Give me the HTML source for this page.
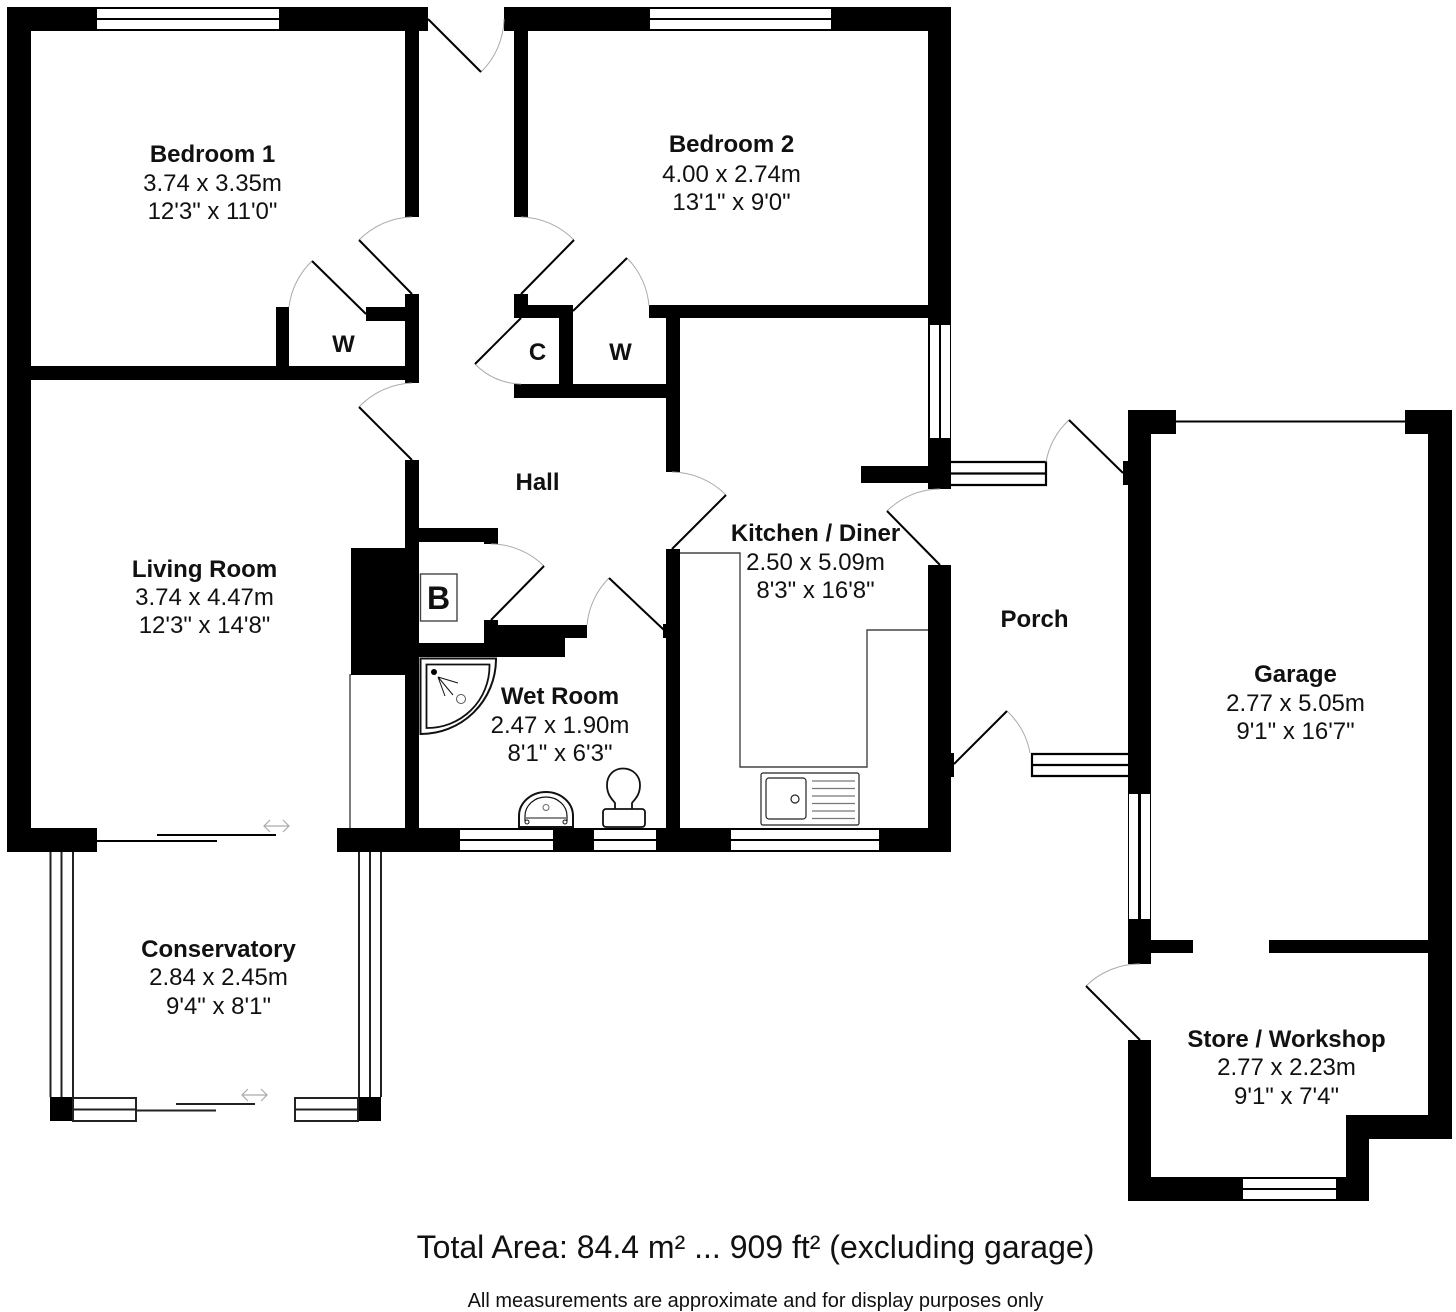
<!DOCTYPE html>
<html><head><meta charset="utf-8"><style>
html,body{margin:0;padding:0;background:#fff}
svg{display:block}
text{font-family:"Liberation Sans",sans-serif;font-size:24px;fill:#111;text-anchor:middle}
.b{font-weight:bold}
.w{fill:#000}
.a{fill:none;stroke:#aaa;stroke-width:1}
.d{fill:none;stroke:#000;stroke-width:2}
.l{stroke:#000;stroke-width:2.200;fill:none}
.g{stroke:#444;stroke-width:1.400;fill:none}
.f{stroke:#aaa;stroke-width:1.200;fill:none}
.win{fill:#fff}
</style></head><body>
<svg width="1456" height="1312" viewBox="0 0 1456 1312" xmlns="http://www.w3.org/2000/svg">
<rect width="1456" height="1312" fill="#fff"/>
<!-- walls -->
<g class="w">
<rect x="7" y="7" width="421" height="24"/>
<rect x="504" y="7" width="447" height="24"/>
<rect x="7" y="7" width="24" height="845"/>
<rect x="405" y="7" width="14" height="210"/>
<rect x="514" y="7" width="14" height="210"/>
<rect x="405" y="294" width="14" height="89"/>
<rect x="366" y="307" width="39" height="14"/>
<rect x="276" y="307" width="13" height="60"/>
<rect x="31" y="366" width="374" height="14"/>
<rect x="405" y="460" width="14" height="368"/>
<rect x="514" y="294" width="14" height="24"/>
<rect x="528" y="305" width="45" height="13"/>
<rect x="559" y="305" width="14" height="80"/>
<rect x="514" y="384" width="152" height="14"/>
<rect x="666" y="305" width="14" height="167"/>
<rect x="649" y="305" width="279" height="13"/>
<rect x="928" y="7" width="23" height="482"/>
<rect x="861" y="466" width="67" height="17"/>
<rect x="928" y="565" width="23" height="287"/>
<rect x="666" y="549" width="14" height="279"/>
<rect x="7" y="828" width="90" height="24"/>
<rect x="337" y="828" width="614" height="24"/>
<rect x="351" y="548" width="54" height="127"/>
<rect x="419" y="528" width="79" height="14"/>
<rect x="484" y="528" width="14" height="16"/>
<rect x="484" y="620" width="14" height="37"/>
<rect x="419" y="643" width="146" height="14"/>
<rect x="498" y="625" width="89" height="13"/>
<rect x="498" y="638" width="67" height="19"/>
<rect x="663" y="624" width="3" height="14"/>
<rect x="951" y="753" width="3" height="24"/>
<rect x="1123" y="461" width="5" height="24"/>
<!-- garage -->
<rect x="1128" y="410" width="23" height="383"/>
<rect x="1128" y="410" width="48" height="24"/>
<rect x="1405" y="410" width="47" height="24"/>
<rect x="1428" y="410" width="24" height="729"/>
<rect x="1128" y="919" width="23" height="45"/>
<rect x="1151" y="940" width="42" height="13"/>
<rect x="1269" y="940" width="159" height="13"/>
<rect x="1128" y="1040" width="23" height="161"/>
<rect x="1128" y="1177" width="241" height="24"/>
<rect x="1346" y="1115" width="23" height="86"/>
<rect x="1346" y="1115" width="106" height="24"/>
<rect x="50" y="1097" width="23" height="24"/>
<rect x="358" y="1097" width="23" height="24"/>
</g>
<!-- windows in walls (white strips) -->
<g class="win">
<rect x="97" y="9" width="182" height="9"/><rect x="97" y="20" width="182" height="9"/>
<rect x="650" y="9" width="181" height="9"/><rect x="650" y="20" width="181" height="9"/>
<rect x="930" y="325" width="9" height="113"/><rect x="941" y="325" width="9" height="113"/>
<rect x="460" y="830" width="93" height="9"/><rect x="460" y="841" width="93" height="9"/>
<rect x="594" y="830" width="62" height="9"/><rect x="594" y="841" width="62" height="9"/>
<rect x="731" y="830" width="148" height="9"/><rect x="731" y="841" width="148" height="9"/>
<rect x="1243" y="1179" width="93" height="9"/><rect x="1243" y="1190" width="93" height="9"/>
</g>
<!-- side window at garage -->
<rect x="1128" y="793" width="23" height="126" fill="#000"/>
<rect x="1129" y="794" width="9" height="125" fill="#fff"/><rect x="1141" y="794" width="9" height="125" fill="#fff"/>
<!-- outlined windows -->
<g class="l">
<path d="M951 462H1046V485H951M951 473.500H1046"/>
<path d="M1128 754H1032V776H1128M1032 765H1128"/>
</g>
<g stroke="#222" stroke-width="2" fill="none">
<path d="M50.500 852V1097M61.500 852V1097M73 852V1097"/>
<path d="M359 852V1097M370 852V1097M381 852V1097"/>
<rect x="73" y="1098" width="63" height="23"/><path d="M73 1109.500H136"/>
<rect x="295" y="1098" width="63" height="23"/><path d="M295 1109.500H358"/>
</g>
<!-- doors -->
<g class="a">
<path d="M412 217A77 77 0 0 0 359 240"/>
<path d="M312 261A76 76 0 0 0 289 307"/>
<path d="M412 383A77 77 0 0 0 359 407"/>
<path d="M521 217A77 77 0 0 1 574 240"/>
<path d="M475 364A65 65 0 0 0 521 384"/>
<path d="M627 258A76 76 0 0 1 649 306"/>
<path d="M481 72A76 76 0 0 0 504 19"/>
<path d="M491 544A76 76 0 0 1 544 566"/>
<path d="M609 578A76 76 0 0 0 587 625"/>
<path d="M672 472A77 77 0 0 1 726 495"/>
<path d="M940 489A76 76 0 0 0 887 511"/>
<path d="M1069 420A76 76 0 0 0 1046 462"/>
<path d="M1007 711A76 76 0 0 1 1030 753"/>
<path d="M1140 964A76 76 0 0 0 1086 986"/>
</g>
<g class="d">
<path d="M412 294L359 240"/>
<path d="M366 314L312 261"/>
<path d="M412 460L359 407"/>
<path d="M521 294L574 240"/>
<path d="M521 318L475 364"/>
<path d="M573 311L627 258"/>
<path d="M428 19L481 72"/>
<path d="M491 620L544 566"/>
<path d="M664 630L609 578"/>
<path d="M672 549L726 495"/>
<path d="M940 565L887 511"/>
<path d="M1123 473L1069 420"/>
<path d="M954 764L1007 711"/>
<path d="M1140 1040L1086 986"/>
<path d="M97 841H217M157 835H276"/>
<path d="M136 1110.500H216M176 1104H255" stroke="#222"/>
<path d="M1176 421.500H1405"/>
</g>
<!-- sliding arrows -->
<g class="f">
<path d="M264 826H289M270 820L264 826L270 832M283 820L289 826L283 832"/>
<path d="M242 1095H267M248 1089L242 1095L248 1101M261 1089L267 1095L261 1101"/>
</g>
<!-- counters -->
<g class="g">
<path d="M680 553H740V767H867V630H928"/>
<path d="M350 828V675H351"/>
<rect x="420.500" y="574" width="36.500" height="47"/>
</g>
<!-- sink -->
<g fill="none" stroke="#222" stroke-width="1.200">
<rect x="761" y="773" width="98" height="52" rx="2"/>
<rect x="766" y="778" width="40" height="41" rx="3"/>
<circle cx="795" cy="799" r="4"/>
<path d="M812 781H855M812 788.500H855M812 796H855M812 803.500H855M812 811H855M812 818.500H855" stroke="#777"/>
</g>
<!-- shower -->
<g fill="none" stroke="#111">
<path d="M420.500 658.500H496V660A75 75 0 0 1 420.500 734Z" stroke-width="2"/>
<path d="M426.500 664.500H489.500V666A62 62 0 0 1 426.500 728Z" stroke-width="1.800"/>
<path d="M438 677L458 683M438 677L445 696M438 677L453 695" stroke-width="1"/>
<circle cx="461" cy="699" r="4.500" stroke-width="1" stroke="#555"/>
</g>
<circle cx="434" cy="672" r="3" fill="#000"/>
<!-- basin -->
<g fill="none" stroke="#111">
<path d="M519 827V816A27 24 0 0 1 573 816V827Z" stroke-width="2"/>
<path d="M525 821V816A21 19 0 0 1 567 816V821" stroke-width="1.200"/>
<path d="M526 818H566" stroke="#666" stroke-width="1.500"/>
<circle cx="546" cy="807.500" r="3" stroke="#666" stroke-width="1"/>
<circle cx="527" cy="822" r="2" stroke-width="1"/>
<circle cx="565" cy="822" r="2" stroke-width="1"/>
<!-- toilet -->
<rect x="603" y="809" width="42" height="18" rx="3" stroke-width="1.800"/>
<path d="M615 809V803C612 799 607 795 607 785C607 775 614 768.500 623 768.500C632 768.500 640 775 640 785C640 795 635 799 632 803V809" stroke-width="1.800"/>
</g>
<!-- labels -->
<g transform="translate(0.5 0)">
<text class="b" x="212" y="162">Bedroom 1</text><text x="212" y="191">3.74 x 3.35m</text><text x="212" y="219">12'3" x 11'0"</text>
<text class="b" x="731" y="152">Bedroom 2</text><text x="731" y="182">4.00 x 2.74m</text><text x="731" y="210">13'1" x 9'0"</text>
<text class="b" x="343" y="352">W</text>
<text class="b" x="537" y="360">C</text>
<text class="b" x="620" y="360">W</text>
<text class="b" x="537" y="490">Hall</text>
<text class="b" x="815" y="541">Kitchen / Diner</text><text x="815" y="570">2.50 x 5.09m</text><text x="815" y="598">8'3" x 16'8"</text>
<text class="b" x="204" y="577">Living Room</text><text x="204" y="605">3.74 x 4.47m</text><text x="204" y="633">12'3" x 14'8"</text>
<text class="b" x="559.500" y="704">Wet Room</text><text x="559.500" y="733">2.47 x 1.90m</text><text x="559.500" y="761">8'1" x 6'3"</text>
<text class="b" x="1034" y="627">Porch</text>
<text class="b" x="1295" y="682">Garage</text><text x="1295" y="711">2.77 x 5.05m</text><text x="1295" y="739">9'1" x 16'7"</text>
<text class="b" x="1286" y="1047">Store / Workshop</text><text x="1286" y="1075">2.77 x 2.23m</text><text x="1286" y="1104">9'1" x 7'4"</text>
<text class="b" x="218" y="957">Conservatory</text><text x="218" y="985">2.84 x 2.45m</text><text x="218" y="1014">9'4" x 8'1"</text>
<text class="b" x="438" y="609" style="font-size:32px">B</text>
</g>
<text x="755.500" y="1258" style="font-size:32px">Total Area: 84.4 m² ... 909 ft² (excluding garage)</text>
<text x="755.500" y="1307" style="font-size:20px">All measurements are approximate and for display purposes only</text>
</svg>
</body></html>
